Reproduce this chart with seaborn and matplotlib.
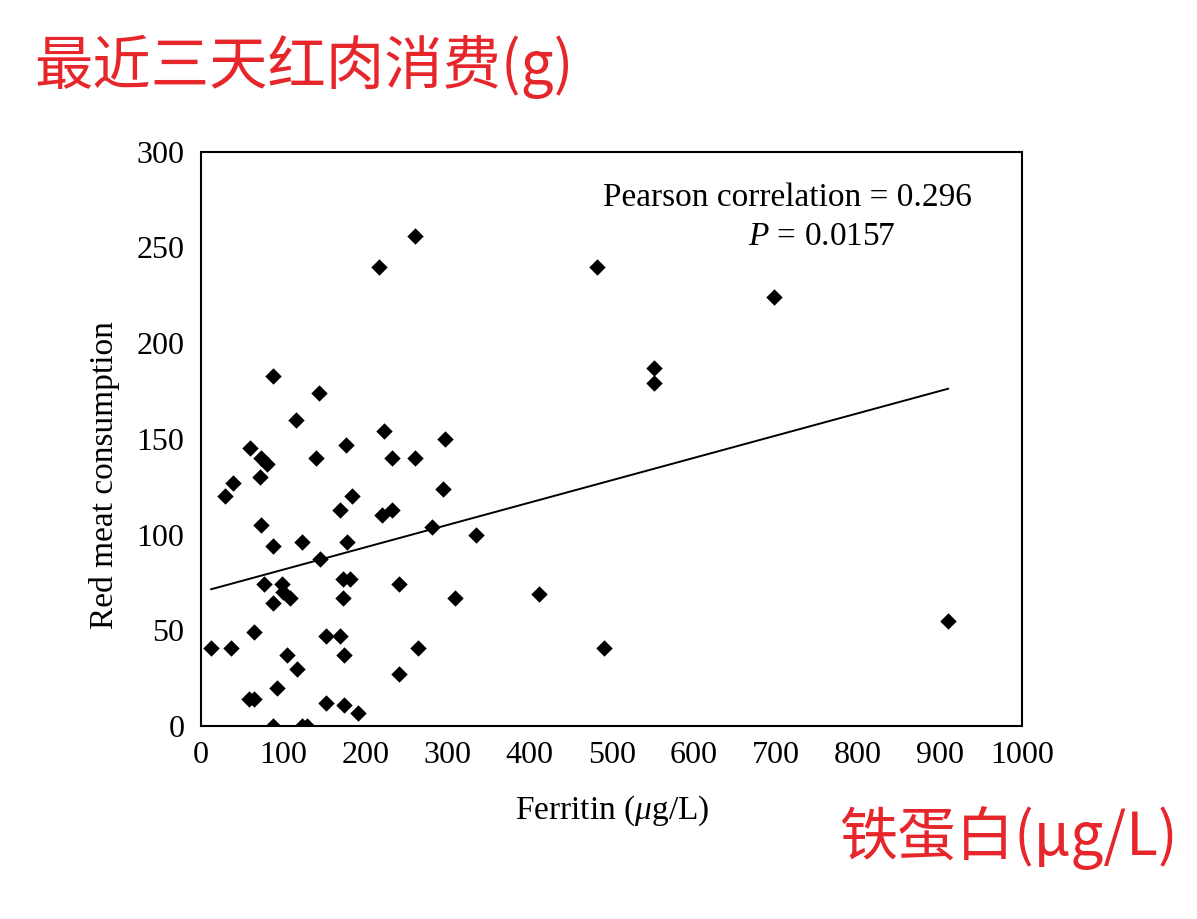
import numpy as np
import pandas as pd
import matplotlib
matplotlib.use("Agg")
import matplotlib.pyplot as plt
import seaborn as sns

# values
ferritin = [217, 260, 482, 698, 552, 552, 910, 491, 412, 309, 335, 281, 294, 297,
            261, 233, 233, 220, 223, 184, 169, 177, 140, 143, 116, 88, 60, 73, 80,
            72, 39, 29, 73, 88, 123, 178, 145, 77, 99, 100, 108, 88, 173, 181, 173,
            241, 12, 37, 65, 105, 117, 93, 58, 65, 152, 169, 174, 264, 241, 152,
            174, 191, 88, 123, 129]
red_meat = [240, 256, 240, 224, 187, 179, 55, 41, 69, 67, 100, 104, 124, 150,
            140, 140, 113, 110, 154, 120, 113, 147, 140, 174, 160, 183, 145, 140, 137,
            130, 127, 120, 105, 94, 96, 96, 87, 74, 74, 70, 67, 64, 77, 77, 67,
            74, 41, 41, 49, 37, 30, 20, 14, 14, 47, 47, 37, 41, 27, 12,
            11, 7, 0, 0, 0]

# regression line as printed in the figure
fit_intercept = 70.0
fit_slope = 0.1167

x_ticks = [0, 100, 200, 300, 400, 500, 600, 700, 800, 900, 1000]
y_ticks = [0, 50, 100, 150, 200, 250, 300]

df = pd.DataFrame({"ferritin": ferritin, "red_meat": red_meat})

sns.set_theme(style="white")
plt.rcParams['font.family'] = ['Liberation Serif', 'DejaVu Serif']
plt.rcParams['text.color'] = 'black'
plt.rcParams['axes.labelcolor'] = 'black'
plt.rcParams['mathtext.fontset'] = 'custom'
plt.rcParams['mathtext.rm'] = 'Liberation Serif'
plt.rcParams['mathtext.it'] = 'Liberation Serif:italic'

fig = plt.figure(figsize=(11.97, 9.19), dpi=100)
ax = fig.add_axes([0.168, 0.21, 0.686, 0.625])

sns.scatterplot(data=df, x="ferritin", y="red_meat", marker="D", s=70,
                color="black", edgecolor="black", linewidth=0, ax=ax, zorder=3)

line_x = np.array([min(ferritin), max(ferritin)])
sns.lineplot(x=line_x, y=fit_intercept + fit_slope * line_x, color="black",
             linewidth=1.4, ax=ax)

ax.set_xlim(0, 1000)
ax.set_ylim(0, 300)
ax.set_xticks(x_ticks)
ax.set_yticks(y_ticks)
ax.tick_params(axis="both", labelsize=23, colors="black", width=1.4)
ax.tick_params(axis="x", direction="inout", length=10, pad=6)
ax.tick_params(axis="y", direction="out", length=7, pad=5)
for sp in ax.spines.values():
    sp.set_visible(True)
    sp.set_color("black")
    sp.set_linewidth(1.5)

ax.set_xlabel("Ferritin ($\\mathit{\\mu}$g/L)", fontsize=24, labelpad=17)
ax.set_ylabel("Red meat consumption", fontsize=24)
ax.yaxis.set_label_coords(-0.099, 0.437)

ax.text(0.714, 0.92, "Pearson correlation = 0.296", transform=ax.transAxes,
        ha="center", va="center", fontsize=24)
ax.text(0.666, 0.852, "$P$ = 0.0157", transform=ax.transAxes,
        ha="left", va="center", fontsize=24)

red = "#e6262b"
fig.text(0.029, 0.927, "最近三天红肉消费(g)", color=red, fontsize=42,
         family=['Noto Sans CJK SC', 'DejaVu Sans'], ha="left", va="center")
fig.text(0.984, 0.088, "铁蛋白(μg/L)", color=red, fontsize=42,
         family=['Noto Sans CJK SC', 'DejaVu Sans'], ha="right", va="center")

fig.savefig("out.png", dpi=100)
